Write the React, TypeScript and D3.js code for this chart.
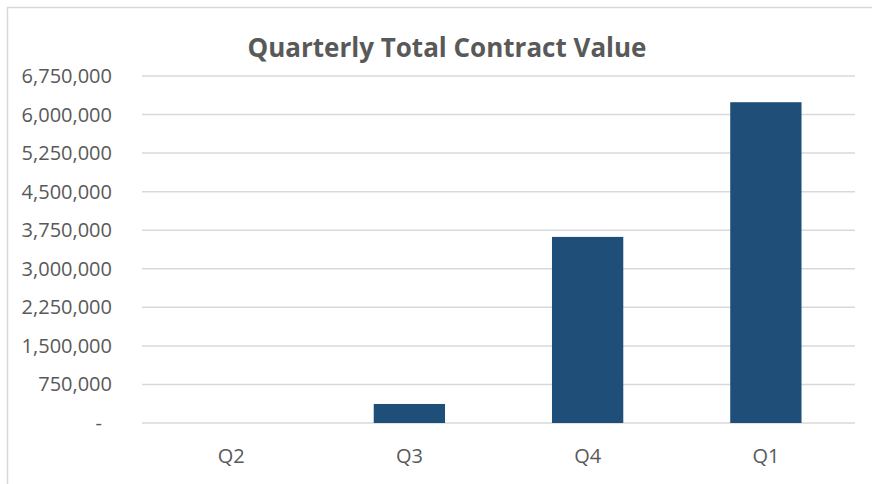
import React, { useEffect, useRef } from "react";
import * as d3 from "d3";

const quarters = ["Q2", "Q3", "Q4", "Q1"];
const contractValues = [0, 370000, 3620000, 6240000];
const yTicks = [0, 750000, 1500000, 2250000, 3000000, 3750000, 4500000, 5250000, 6000000, 6750000];

const App = () => {
  const ref = useRef<SVGSVGElement | null>(null);

  useEffect(() => {
    const width = 872;
    const height = 484;
    const margin = { top: 76, right: 17, bottom: 61, left: 142 };

    const svg = d3.select(ref.current);
    svg.selectAll("*").remove();

    // chart area border (only top/left visible in the frame)
    svg
      .append("rect")
      .attr("x", 7.5)
      .attr("y", 7.5)
      .attr("width", width + 20)
      .attr("height", height + 20)
      .attr("fill", "#fff")
      .attr("stroke", "#d9d9d9")
      .attr("stroke-width", 1.5);

    const x = d3
      .scaleBand()
      .domain(quarters)
      .range([margin.left, width - margin.right])
      .padding(0);

    const y = d3
      .scaleLinear()
      .domain([0, 6750000])
      .range([height - margin.bottom, margin.top]);

    // gridlines
    svg
      .append("g")
      .selectAll("line")
      .data(yTicks)
      .join("line")
      .attr("x1", margin.left)
      .attr("x2", width - margin.right)
      .attr("y1", (d) => y(d))
      .attr("y2", (d) => y(d))
      .attr("stroke", "#d9d9d9")
      .attr("stroke-width", 1.5);

    // y labels
    const fmt = d3.format(",");
    svg
      .append("g")
      .selectAll("text")
      .data(yTicks)
      .join("text")
      .attr("x", 112)
      .attr("dx", (d) => (d === 0 ? -10 : 0))
      .attr("y", (d) => y(d))
      .attr("dy", "0.35em")
      .attr("text-anchor", "end")
      .attr("font-family", "'Open Sans', sans-serif")
      .attr("font-size", 20)
      .attr("fill", "#595959")
      .text((d) => (d === 0 ? "-" : fmt(d)));

    // bars
    const barW = x.bandwidth() * 0.4;
    svg
      .append("g")
      .selectAll("rect")
      .data(contractValues)
      .join("rect")
      .attr("x", (d, i) => (x(quarters[i]) as number) + (x.bandwidth() - barW) / 2)
      .attr("y", (d) => y(d))
      .attr("width", barW)
      .attr("height", (d) => y(0) - y(d))
      .attr("fill", "#1f4e79");

    // x labels
    svg
      .append("g")
      .selectAll("text")
      .data(quarters)
      .join("text")
      .attr("x", (d) => (x(d) as number) + x.bandwidth() / 2)
      .attr("y", 463)
      .attr("text-anchor", "middle")
      .attr("font-family", "'Open Sans', sans-serif")
      .attr("font-size", 20)
      .attr("fill", "#595959")
      .text((d) => d);

    // title
    svg
      .append("text")
      .attr("x", 447)
      .attr("y", 57)
      .attr("text-anchor", "middle")
      .attr("font-family", "'Open Sans', sans-serif")
      .attr("font-weight", "bold")
      .attr("font-size", 26)
      .attr("fill", "#595959")
      .text("Quarterly Total Contract Value");
  }, []);

  return (
    <svg
      ref={ref}
      width={872}
      height={484}
      style={{ position: "absolute", left: 0, top: 0, background: "#fff" }}
    />
  );
};

export default App;
